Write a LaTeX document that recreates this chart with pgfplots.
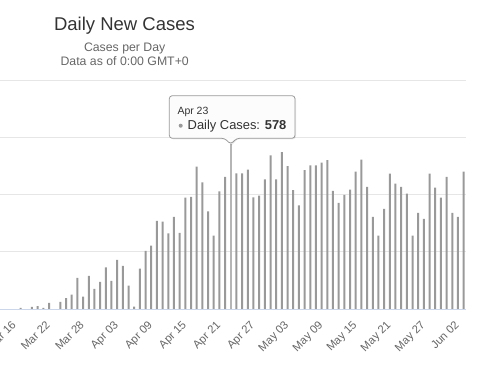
\documentclass[border=0pt]{standalone}
\usepackage{pgfplots}
\pgfplotsset{compat=1.18}
\usepackage{fontspec}
\setmainfont{Liberation Sans}
\definecolor{bargrey}{HTML}{999999}
\definecolor{barhi}{HTML}{B5B5B5}
\definecolor{gridgrey}{HTML}{E6E6E6}
\definecolor{axisblue}{HTML}{CCD6EB}
\definecolor{titlecol}{HTML}{333333}
\definecolor{subcol}{HTML}{666666}
\begin{document}
\begin{tikzpicture}[x=1pt,y=1pt]
\begin{axis}[
  at={(0pt,57pt)}, anchor=south west,
  scale only axis, width=465.5pt, height=229pt,
  xmin=-8.63, xmax=73.33, ymin=0, ymax=800,
  axis line style={draw=none},
  major tick length=0pt,
  ytick={200,400,600,800}, yticklabels={},
  extra y ticks={0}, extra y tick labels={},
  extra y tick style={grid style={draw=axisblue, line width=0.8pt}},
  ymajorgrids, grid style={draw=gridgrey, line width=0.8pt},
  xtick={-6,0,6,12,18,24,30,36,42,48,54,60,66,72},
  xticklabels={Mar 16,Mar 22,Mar 28,Apr 03,Apr 09,Apr 15,Apr 21,Apr 27,May 03,May 09,May 15,May 21,May 27,Jun 02},
  xticklabel style={xshift=-4pt, yshift=-11pt, rotate=45, anchor=north east, inner sep=0pt,
    font=\fontsize{11.3}{13}\selectfont, text=subcol},
  ybar, bar width=2pt,
  clip=false,
]
\addplot[ybar, bar shift=0pt, fill=bargrey, draw=none] coordinates {
(-5,4) (-3,7) (-2,10) (-1,4) (0,21) (2,25) (3,38) (4,50) (5,109) (6,43)
(7,116) (8,70) (9,95) (10,145) (11,98) (12,172) (13,151) (14,82) (15,8) (16,141)
(17,203) (18,221) (19,308) (20,305) (21,264) (22,322) (23,266) (24,389) (25,392) (26,497)
(27,442) (28,341) (29,256) (30,411) (31,462) (33,474) (34,474) (35,487) (36,390)
(37,396) (38,453) (39,537) (40,453) (41,548) (42,499) (43,415) (44,362) (45,485) (46,502)
(47,502) (48,511) (49,520) (50,413) (51,371) (52,399) (53,417) (54,480) (55,522) (56,427)
(57,322) (58,256) (59,350) (60,473) (61,438) (62,427) (63,403) (64,256) (65,336) (66,315)
(67,473) (68,424) (69,389) (70,462) (71,336) (72,322) (73,480)
};
\addplot[ybar, bar shift=0pt, fill=barhi, draw=none] coordinates {(32,578)};
\end{axis}
% titles
\node[anchor=base, text=titlecol, font=\fontsize{18.5}{22}\selectfont] at (124.5,335.3) {Daily New Cases};
\node[anchor=base, text=subcol, font=\fontsize{12.3}{14}\selectfont] at (124.7,314.3) {Cases per Day};
\node[anchor=base, text=subcol, font=\fontsize{12.3}{14}\selectfont] at (124.7,300.3) {Data as of 0:00 GMT+0};
% tooltip
\fill[black, opacity=0.08, rounded corners=3pt] (170.3,226.7) rectangle (296,269.3);
\fill[black, opacity=0.08] (225.7,226.7) -- (231.7,220.7) -- (237.7,226.7) -- cycle;
\filldraw[fill=white, fill opacity=0.9, draw=bargrey, line width=0.8pt, rounded corners=3pt]
  (169.3,270.3) -- (295,270.3) -- (295,227.7) -- (236.7,227.7) -- (230.7,221.7) -- (224.7,227.7) -- (169.3,227.7) -- cycle;
\node[anchor=base west, inner sep=0pt, text=titlecol, font=\fontsize{10.5}{12}\selectfont] at (177.3,251.7) {Apr 23};
\fill[bargrey] (180.7,240.3) circle (2pt);
\node[anchor=base west, inner sep=0pt, text=titlecol, font=\fontsize{12.9}{14}\selectfont] at (187.5,236) {Daily Cases: \textbf{578}};
\pgfresetboundingbox
\path[use as bounding box] (0,0) rectangle (485,366);
\end{tikzpicture}
\end{document}
